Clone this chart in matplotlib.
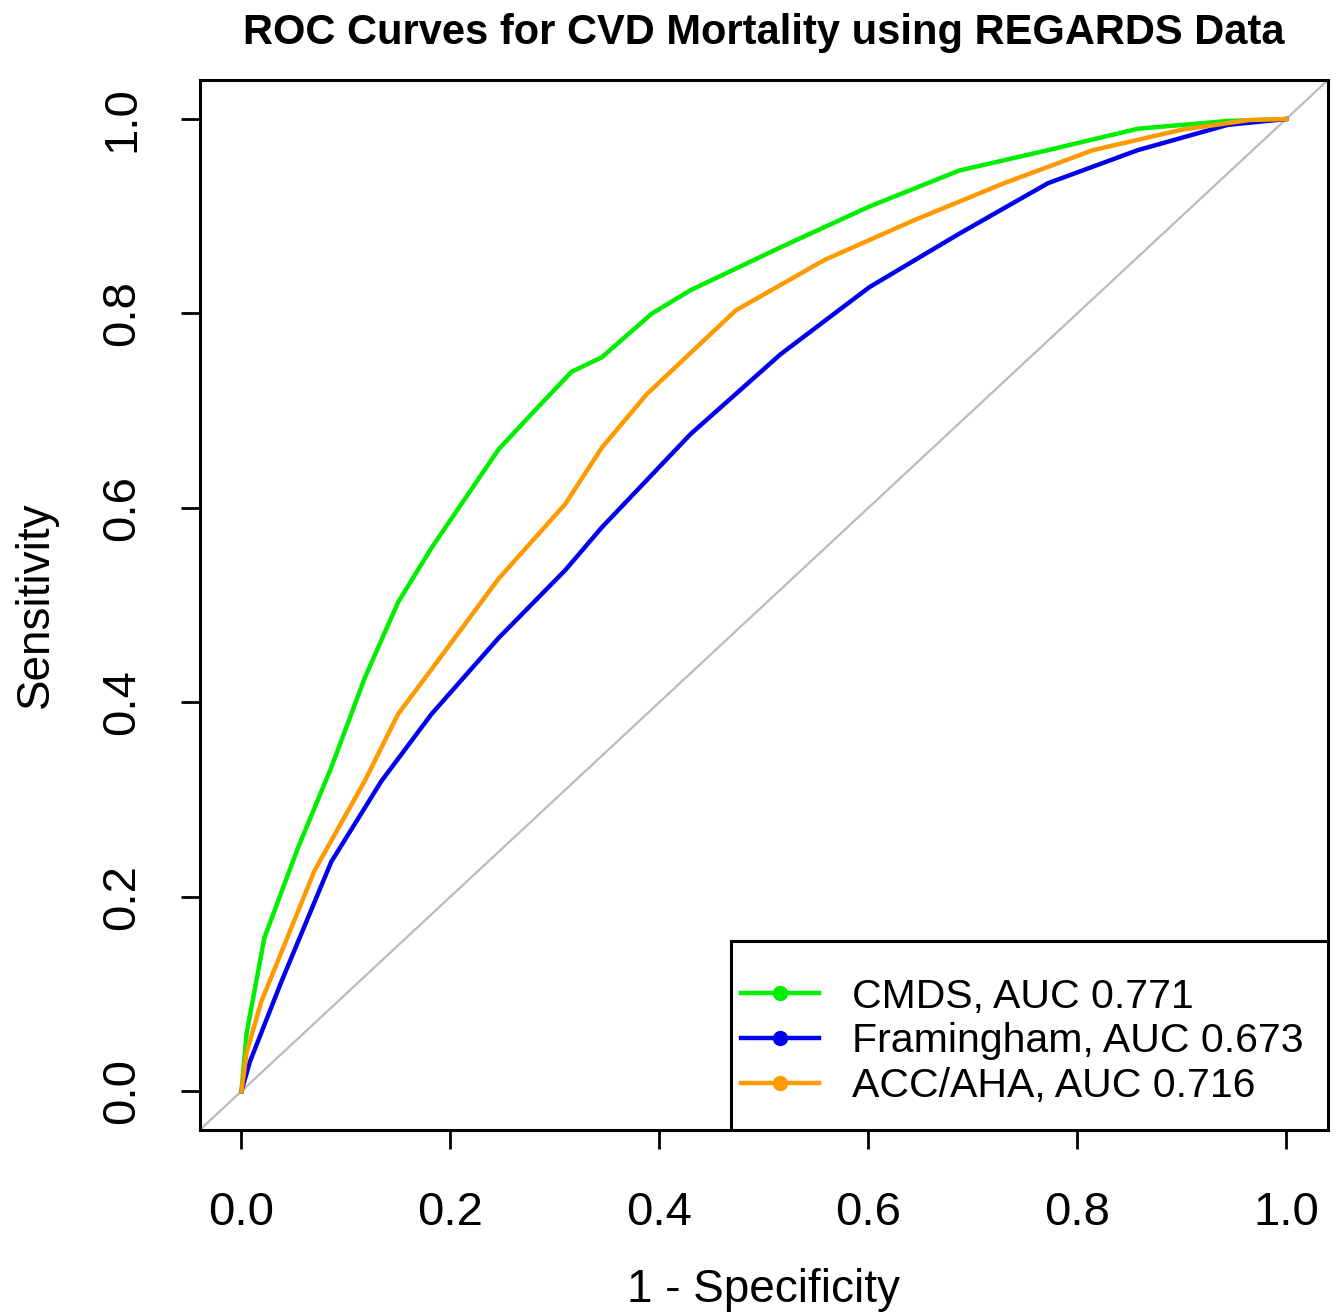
import matplotlib
matplotlib.use("Agg")
from matplotlib import pyplot as plt
from matplotlib.lines import Line2D
from matplotlib.patches import Rectangle

plt.rcParams['font.family'] = ['Liberation Sans', 'DejaVu Sans']

# ROC points (1 - specificity, sensitivity)
cmds_fpr = [0.0, 0.005, 0.022, 0.054, 0.086, 0.118, 0.150, 0.182, 0.246, 0.278, 0.316,
            0.345, 0.393, 0.430, 0.516, 0.601, 0.687, 0.772, 0.858, 0.944, 1.0]
cmds_tpr = [0.0, 0.060, 0.158, 0.250, 0.333, 0.425, 0.503, 0.559, 0.660, 0.697, 0.740,
            0.755, 0.800, 0.824, 0.868, 0.910, 0.947, 0.968, 0.990, 0.998, 1.0]

fram_fpr = [0.0, 0.008, 0.038, 0.086, 0.134, 0.182, 0.246, 0.310, 0.345, 0.430, 0.516,
            0.601, 0.687, 0.772, 0.858, 0.944, 1.0]
fram_tpr = [0.0, 0.030, 0.112, 0.236, 0.319, 0.388, 0.466, 0.536, 0.580, 0.676, 0.758,
            0.827, 0.882, 0.934, 0.968, 0.994, 1.0]

acc_fpr = [0.0, 0.005, 0.019, 0.070, 0.118, 0.150, 0.182, 0.246, 0.310, 0.345, 0.388,
           0.473, 0.558, 0.644, 0.730, 0.815, 0.900, 0.965, 1.0]
acc_tpr = [0.0, 0.040, 0.092, 0.227, 0.319, 0.388, 0.434, 0.527, 0.604, 0.662, 0.717,
           0.803, 0.855, 0.896, 0.934, 0.968, 0.989, 0.999, 1.0]

labels = ["CMDS, AUC 0.771", "Framingham, AUC 0.673", "ACC/AHA, AUC 0.716"]
colors = ["#00ee00", "#0000ee", "#ff9900"]
ticks = [0.0, 0.2, 0.4, 0.6, 0.8, 1.0]

fig = plt.figure(figsize=(13.4, 13.14), dpi=100)
ax = fig.add_axes([0.149, 0.140, 0.842, 0.799])

ax.axline((0, 0), (1, 1), color="#bbbbbb", lw=1.6, zorder=1)
for fpr, tpr, c in zip([cmds_fpr, fram_fpr, acc_fpr], [cmds_tpr, fram_tpr, acc_tpr], colors):
    ax.plot(fpr, tpr, color=c, lw=3.2, solid_joinstyle="round", zorder=2)

ax.set_xlim(-0.04, 1.04)
ax.set_ylim(-0.04, 1.04)
ax.set_xticks(ticks)
ax.set_yticks(ticks)
ax.set_xticklabels([f"{t:.1f}" for t in ticks])
ax.set_yticklabels([f"{t:.1f}" for t in ticks], rotation=90, va="center")
ax.tick_params(direction="out", length=14, width=2, labelsize=34)
ax.tick_params(axis="x", pad=30)
ax.tick_params(axis="y", pad=26)
for s in ax.spines.values():
    s.set_linewidth(2.2)

ax.set_xlabel("1 - Specificity", fontsize=33, labelpad=24)
ax.set_ylabel("Sensitivity", fontsize=33, labelpad=30)
ax.set_title("ROC Curves for CVD Mortality using REGARDS Data", fontsize=30,
             fontweight="bold", pad=26)

# legend box like R's legend(): wider padding on top than on the sides
ax.add_patch(Rectangle((0.471, 0), 0.529, 0.18, transform=ax.transAxes,
                       facecolor="white", edgecolor="black", lw=2.2, zorder=3))
handles = [Line2D([0], [0], color=c, lw=3.2, marker="o", markersize=10) for c in colors]
leg = ax.legend(handles, labels, loc="lower right", fontsize=29.5, borderaxespad=0,
                frameon=False, handlelength=1.9, labelspacing=0.17, borderpad=0.6,
                handletextpad=0.8)
leg.set_zorder(4)

fig.savefig("out.png", dpi=100)
